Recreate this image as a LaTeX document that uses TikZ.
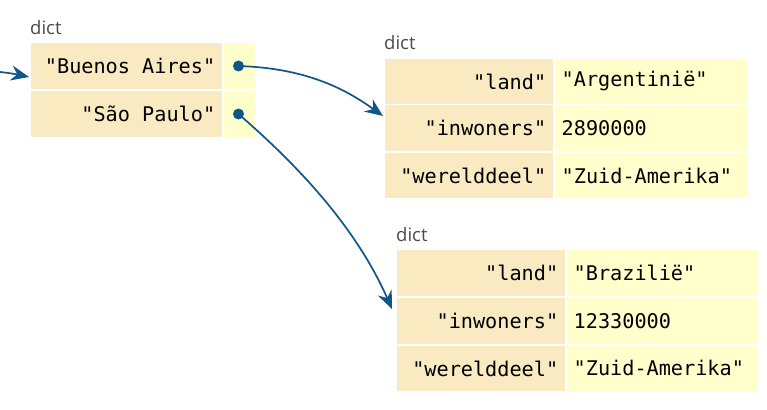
\documentclass[tikz,border=0pt]{standalone}
\usepackage{fontspec}
\newfontfamily\monof[WordSpace={1,0,0},PunctuationSpace=WordSpace]{DejaVu Sans Mono}
\newfontfamily\labf{Open Sans}
\usetikzlibrary{arrows.meta}
\definecolor{keybg}{RGB}{249,234,194}
\definecolor{valbg}{RGB}{255,255,204}
\definecolor{ptrc}{RGB}{16,86,134}
\definecolor{labc}{RGB}{75,75,75}
\newcommand{\msp}{\hspace{0.602em}}
\begin{document}
\begin{tikzpicture}[x=1pt,y=-1pt,
  cell/.style={anchor=north west,inner ysep=0pt,inner xsep=7pt,font=\monof\fontsize{20.2}{23}\selectfont,text=black},
  keycell/.style={cell,fill=keybg,align=right},
  valcell/.style={cell,fill=valbg,align=left},
  dictlab/.style={anchor=base west,inner sep=0pt,font=\labf\fontsize{18.5}{21}\selectfont,text=labc},
  ptr/.style={draw=ptrc,line width=1.7pt,-{Stealth[length=18pt,width=15pt,inset=6pt]}},
  dot/.style={circle,fill=ptrc,inner sep=0pt,minimum size=11pt}]
\useasboundingbox (0,0) rectangle (767,409);
% dict 1
\node[dictlab] (l1) at (30,35) {dict};
\node[keycell,text width=177pt,minimum height=46pt] (k11) at (31,43) {"Buenos\msp Aires"};
\node[keycell,text width=177pt,minimum height=46pt] (k12) at (31,91) {"São\msp Paulo"};
\node[valcell,text width=17pt,minimum height=46pt] (v11) at (224,43) {};
\node[valcell,text width=17pt,minimum height=46pt] (v12) at (224,91) {};
\node[dot] (p1) at (238.5,66) {};
\node[dot] (p2) at (238.5,114) {};
% dict 2
\node[dictlab] (l2) at (384,49.5) {dict};
\node[keycell,text width=154pt,minimum height=44.5pt] (k21) at (385,59) {"land"};
\node[keycell,text width=154pt,minimum height=46pt] (k22) at (385,105) {"inwoners"};
\node[keycell,text width=154pt,minimum height=45pt] (k23) at (385,153) {"werelddeel"};
\node[valcell,text width=178pt,minimum height=44.5pt] (v21) at (554.5,59) {"Argentinië"};
\node[valcell,text width=178pt,minimum height=46pt] (v22) at (554.5,105) {2890000};
\node[valcell,text width=178pt,minimum height=45pt] (v23) at (554.5,153) {"Zuid-Amerika"};
% dict 3
\node[dictlab] (l3) at (396,241.5) {dict};
\node[keycell,text width=154pt,minimum height=46pt] (k31) at (397,250) {"land"};
\node[keycell,text width=154pt,minimum height=46.5pt] (k32) at (397,297.5) {"inwoners"};
\node[keycell,text width=154pt,minimum height=45.5pt] (k33) at (397,345.5) {"werelddeel"};
\node[valcell,text width=177.5pt,minimum height=46pt] (v31) at (566.5,250) {"Brazilië"};
\node[valcell,text width=177.5pt,minimum height=46.5pt] (v32) at (566.5,297.5) {12330000};
\node[valcell,text width=177.5pt,minimum height=45.5pt] (v33) at (566.5,345.5) {"Zuid-Amerika"};
% pointers
\coordinate (in) at (0,72);
\coordinate (e0) at (29,77);
\coordinate (e1) at (383,116);
\coordinate (e2) at (392,309);
\draw[ptr] (in) .. controls (10,73) and (20,75) .. (e0);
\draw[ptr] (p1.center) .. controls (300,68) and (340,85) .. (e1);
\draw[ptr] (p2.center) .. controls (295,163) and (355,225) .. (e2);
\end{tikzpicture}
\end{document}
